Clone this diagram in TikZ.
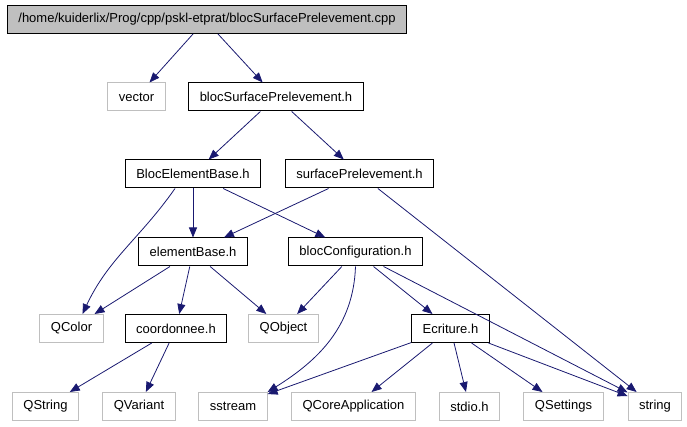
\documentclass[tikz,border=0pt]{standalone}
\usepackage{fontspec}
\setmainfont{Liberation Sans}
\usepackage{tikz}
\usetikzlibrary{arrows.meta}
\definecolor{edgeblue}{RGB}{25,25,112}
\definecolor{boxgray}{RGB}{191,191,191}

\begin{document}
\begin{tikzpicture}[
    x=1pt, y=-1pt,
    >={Triangle[length=10pt, width=8pt]},
    filebox/.style={draw=black, line width=1pt, fill=white, minimum height=28pt, inner xsep=11pt, font=\fontsize{13}{15}\selectfont},
    extbox/.style={filebox, draw=boxgray},
    rootbox/.style={filebox, fill=boxgray},
    dep/.style={->, draw=edgeblue, line width=0.8pt},
]
    \useasboundingbox (0,0) rectangle (687,427);

    % top
    \node[rootbox] (root) at (207,19.5) {/home/kuiderlix/Prog/cpp/pskl-etprat/blocSurfacePrelevement.cpp};
    \node[extbox] (vector) at (136.5,97) {vector};
    \node[filebox] (bsp) at (276,97) {blocSurfacePrelevement.h};
    \node[filebox] (beb) at (193,174) {BlocElementBase.h};
    \node[filebox] (sp) at (359.5,174) {surfacePrelevement.h};
    \node[filebox] (eb) at (193,252) {elementBase.h};
    \node[filebox] (bconf) at (355.5,252) {blocConfiguration.h};

    % middle row
    \node[extbox] (qcolor) at (71.5,328.5) {QColor};
    \node[filebox] (coord) at (176,328.5) {coordonnee.h};
    \node[extbox] (qobject) at (283.5,328.5) {QObject};
    \node[filebox] (ecrit) at (450.5,328.5) {Ecriture.h};

    % bottom row
    \node[extbox] (qstring) at (45.5,406.5) {QString};
    \node[extbox] (qvariant) at (139,406.5) {QVariant};
    \node[extbox] (sstream) at (233,406.5) {sstream};
    \node[extbox] (qcoreapp) at (353.5,406.5) {QCoreApplication};
    \node[extbox] (stdio) at (469.5,406.5) {stdio.h};
    \node[extbox] (qsettings) at (563.5,406.5) {QSettings};
    \node[extbox] (string) at (655,406.5) {string};

    \draw[dep] ([xshift=-14pt]root.south) -- (vector);
    \draw[dep] ([xshift=11pt]root.south) -- (bsp);
    \draw[dep] (bsp) -- (beb);
    \draw[dep] (bsp) -- (sp);

    \draw[dep] ([xshift=-18pt]beb.south) to[out=-125, in=65] ([xshift=11pt]qcolor.north);
    \draw[dep] (beb) -- (eb);
    \draw[dep] (beb) -- (bconf);
    \draw[dep] (sp) -- (eb);
    \draw[dep] (sp) -- (string);

    \draw[dep] (eb) -- (qcolor);
    \draw[dep] (eb) -- (coord);
    \draw[dep] (eb) -- (qobject);
    \draw[dep] (bconf) -- (qobject);
    \draw[dep] (bconf.south) to[out=-92, in=32] (sstream.north east);
    \draw[dep] (bconf) -- (ecrit);
    \draw[dep] (bconf) -- (string);

    \draw[dep] (coord) -- (qstring);
    \draw[dep] (coord) -- (qvariant);
    \draw[dep] (ecrit) -- (sstream);
    \draw[dep] (ecrit) -- (qcoreapp);
    \draw[dep] (ecrit) -- (stdio);
    \draw[dep] (ecrit) -- (qsettings);
    \draw[dep] (ecrit) -- (string);
\end{tikzpicture}
\end{document}
